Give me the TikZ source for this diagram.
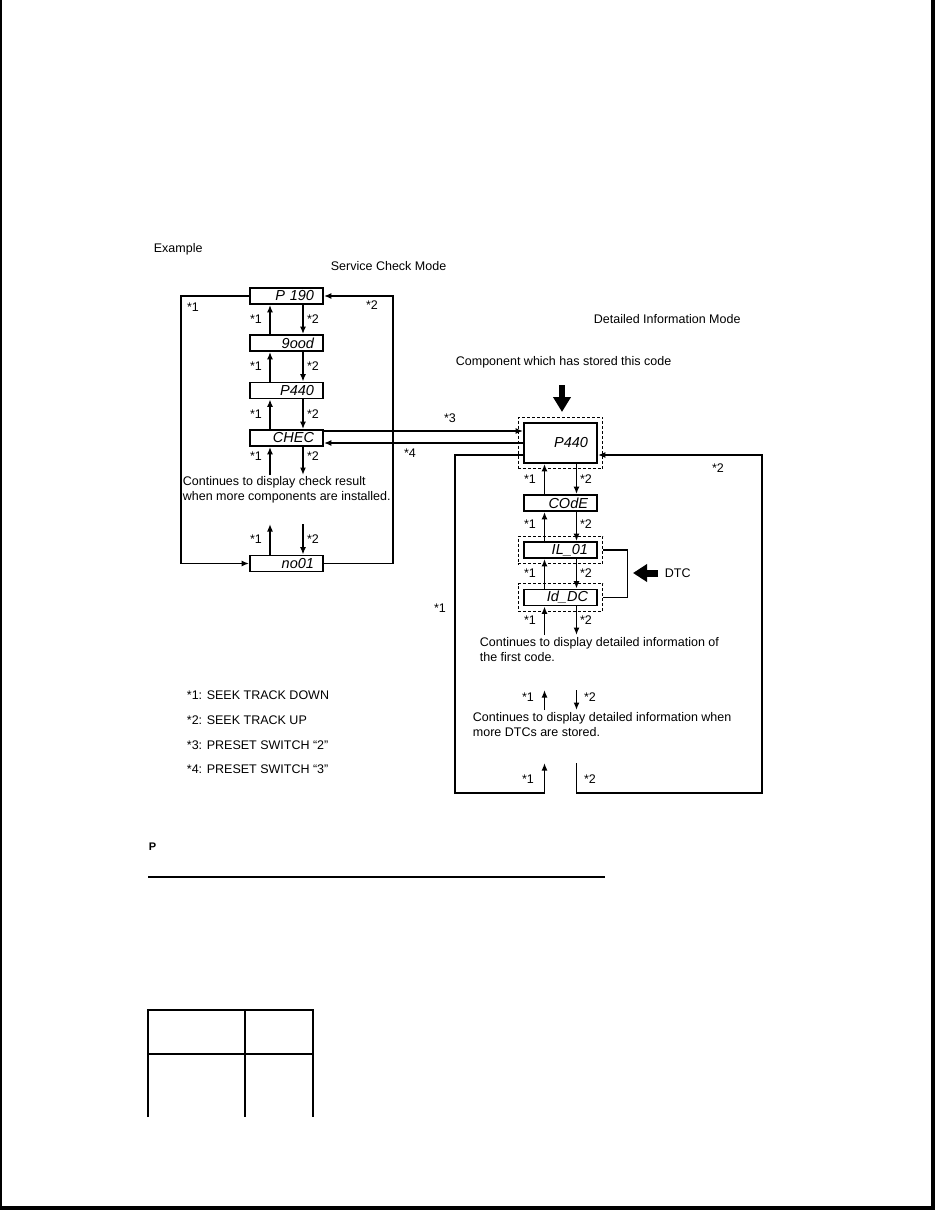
\documentclass[tikz,border=0pt]{standalone}
\usepackage{fontspec}
\setmainfont{Liberation Sans}
\usetikzlibrary{arrows.meta,fit}
\begin{document}
\begin{tikzpicture}[x=1pt,y=-1pt,
  line width=1.8pt,
  arr/.style={-{Latex[length=7.5pt,width=6pt]}},
  lcd/.style={draw, line width=1.8pt, minimum width=73pt, minimum height=16pt, inner sep=0pt, text width=55pt, align=right, font=\itshape\fontsize{14.5}{14}\selectfont},
  dbox/.style={draw, dash pattern=on 3pt off 2pt, line width=0.9pt, inner sep=5pt},
  lbl/.style={font=\fontsize{12.5}{14}\selectfont, inner sep=0pt},
  txt/.style={font=\fontsize{12.5}{15}\selectfont, inner sep=0pt, anchor=west, align=left},
  bigarr/.style={-{Triangle[width=17pt,length=15pt]}, line width=5.5pt},
  dtcarr/.style={-{Triangle[width=17pt,length=14pt]}, line width=7pt}
]
\useasboundingbox (0,0) rectangle (935,1210);
% page frame
\draw[line width=2pt] (1,0) -- (1,1210);
\draw[line width=4pt] (933,0) -- (933,1210);
\draw[line width=4pt] (0,1208) -- (935,1208);

% headings
\node[txt] (ex) at (153,249) {Example};
\node[txt] (scm) at (330,266) {Service Check Mode};
\node[txt] (dim) at (593,319) {Detailed Information Mode};
\node[txt] (comp) at (455,362) {Component which has stored this code};

% left column
\node[lcd] (p190) at (286.5,296) {P 190};
\node[lcd] (good) at (286.5,343) {9ood};
\node[lcd] (p440a) at (286.5,390.5) {P440};
\node[lcd] (chec) at (286.5,438) {CHEC};
\node[lcd] (no01) at (286.5,563.5) {no01};

\foreach \a/\b/\m in {good/p190/319.5, p440a/good/366.5, chec/p440a/414} {
  \draw[arr] ([xshift=-16.5pt]\a.north) -- ([xshift=-16.5pt]\b.south);
  \draw[arr] ([xshift=16.5pt]\b.south) -- ([xshift=16.5pt]\a.north);
  \node[lbl] at (256,\m) {*1};
  \node[lbl] at (313,\m) {*2};
}
\coordinate (c1) at (270,475);
\coordinate (c2) at (303,475);
\draw[arr] (c1) -- ([xshift=-16.5pt]chec.south);
\draw[arr] ([xshift=16.5pt]chec.south) -- (c2);
\node[lbl] at (256,456) {*1};
\node[lbl] at (313,456) {*2};
\node[txt] (cont1) at (182,489.5) {Continues to display check result\\when more components are installed.};
\coordinate (n1) at (270,524);
\coordinate (n2) at (303,524);
\draw[arr] ([xshift=-16.5pt]no01.north) -- (n1);
\draw[arr] (n2) -- ([xshift=16.5pt]no01.north);
\node[lbl] at (256,539) {*1};
\node[lbl] at (313,539) {*2};

\draw[arr] (p190.west) -- ++(-68,0) |- (no01.west);
\draw[arr] (no01.east) -- ++(69,0) |- (p190.east);
\node[lbl] at (193,307) {*1};
\node[lbl] at (372,305) {*2};

% right column
\node[lcd, minimum height=40pt] (big) at (560.5,443) {P440};
\node[lcd] (code) at (560.5,503) {COdE};
\node[lcd] (il) at (560.5,550) {IL\_01};
\node[lcd] (id) at (560.5,597.5) {Id\_DC};
\node[dbox, fit=(big)] (bigd) {};
\node[dbox, fit=(il)] (ild) {};
\node[dbox, fit=(id)] (idd) {};

% mode transfer
\draw[arr] ([yshift=7pt]chec.east) -- ([yshift=12pt]big.west);
\draw[arr] (big.west) -- ([yshift=-5pt]chec.east);
\node[lbl] at (450,418) {*3};
\node[lbl] at (410,453) {*4};

% component arrow
\coordinate (ba) at (562,385);
\draw[bigarr] (ba) -- ++(0,27);

\foreach \a/\b/\m in {code/big/479, il/code/524, id/il/573} {
  \draw[arr] ([xshift=-16pt]\a.north) -- ([xshift=-16pt]\b.south);
  \draw[arr] ([xshift=16pt]\b.south) -- ([xshift=16pt]\a.north);
  \node[lbl] at (530,\m) {*1};
  \node[lbl] at (586,\m) {*2};
}
\coordinate (d1) at (544.5,635);
\coordinate (d2) at (576.5,635);
\draw[arr] (d1) -- ([xshift=-16pt]id.south);
\draw[arr] ([xshift=16pt]id.south) -- (d2);
\node[lbl] at (530,620) {*1};
\node[lbl] at (586,620) {*2};

% DTC bracket
\draw[line width=1.3pt] (ild.east) -- ++(24,0) |- (idd.east);
\coordinate (dt) at (658,573);
\draw[dtcarr] (dt) -- ++(-25,0);
\node[txt] (dtc) at (664,573) {DTC};

\node[txt] (cont2) at (479,650) {Continues to display detailed information of\\the first code.};
\coordinate (m1) at (544.5,710);
\coordinate (m2) at (576.5,690);
\draw[arr] (m1) -- ++(0,-20);
\draw[arr] (m2) -- ++(0,20);
\node[lbl] at (528,697) {*1};
\node[lbl] at (590,697) {*2};
\node[txt] (cont3) at (472,724.5) {Continues to display detailed information when\\more DTCs are stored.};

% outer loop of detailed mode
\coordinate (b1) at (544.5,793);
\coordinate (b2) at (576.5,763);
\draw[arr] ([yshift=-12pt]big.west) -- ++(-68,0) |- (b1) -- ++(0,-30);
\draw[arr] (b2) -- ++(0,30) -- ++(185.5,0) |- ([yshift=-12pt]big.east);
\node[lbl] at (528,779) {*1};
\node[lbl] at (590,779) {*2};
\node[lbl] at (718,468) {*2};
\node[lbl] at (440,608) {*1};

% legend
\node[txt] (l1) at (186,695) {*1: SEEK TRACK DOWN};
\node[txt] (l2) at (186,720) {*2: SEEK TRACK UP};
\node[txt] (l3) at (186,745) {*3: PRESET SWITCH “2”};
\node[txt] (l4) at (186,769) {*4: PRESET SWITCH “3”};

% bottom
\node[txt, font=\bfseries\fontsize{11}{12}\selectfont] (pp) at (148,847) {P};
\draw[line width=1.4pt] (148,877) -- (605,877);
\draw[line width=2.2pt] (148,1117) -- (148,1010) -- (313,1010) -- (313,1117);
\draw[line width=1.1pt] (148,1054) -- (313,1054);
\draw[line width=1.1pt] (245,1010) -- (245,1117);
\end{tikzpicture}
\end{document}
